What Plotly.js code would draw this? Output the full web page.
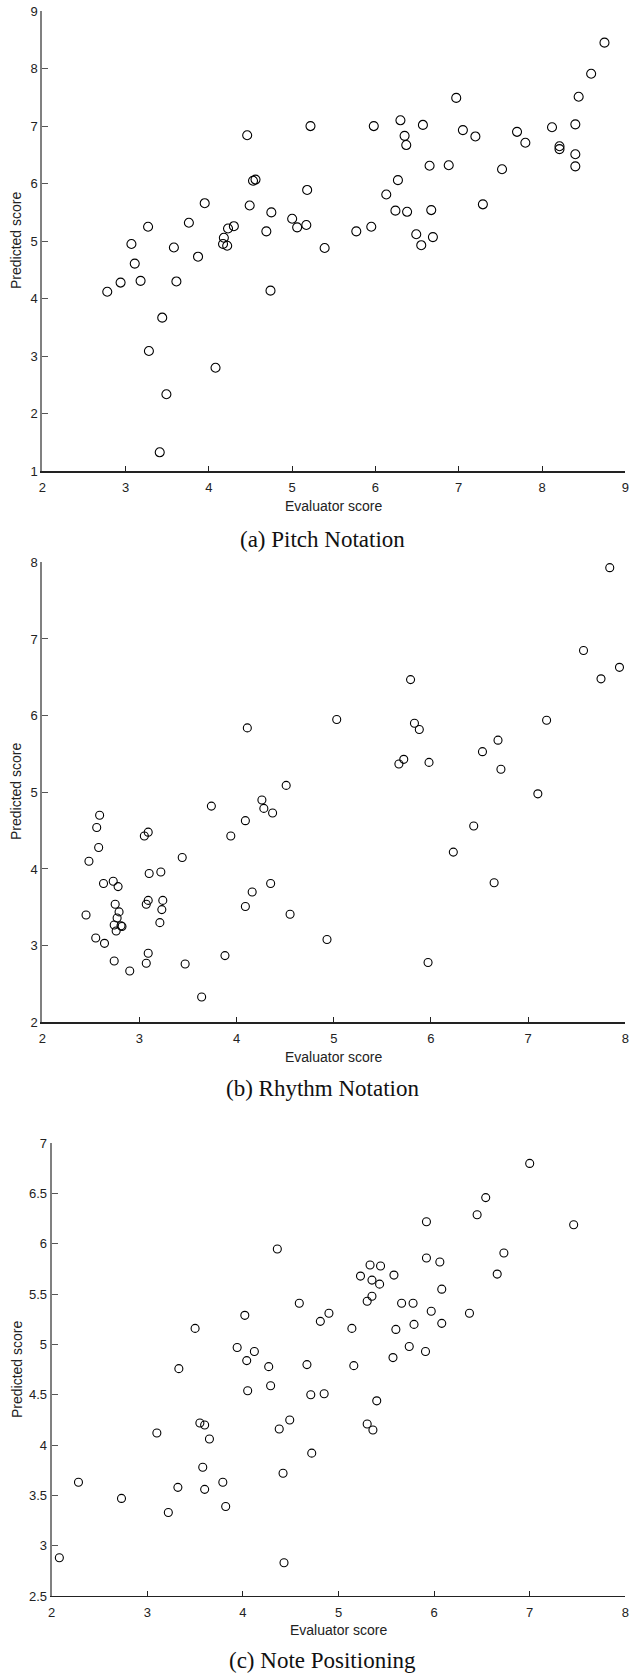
<!DOCTYPE html>
<html>
<head>
<meta charset="utf-8">
<script src="https://cdn.plot.ly/plotly-3.0.1.min.js"></script>
<style>html,body{margin:0;padding:0;background:#fff;}#chart{width:630px;height:1674px;}</style>
</head>
<body>
<div id="chart"></div>
<script>
// (a) Pitch Notation
const pitchEval = [3.07,3.27,3.58,3.76,3.87,3.95,4.18,4.17,4.22,4.23,4.30,4.46,4.53,4.56,4.49,4.75,4.69,5.00,5.06,5.17,5.18,5.22,
  3.11,2.78,2.94,3.18,3.61,3.44,3.28,4.08,3.49,3.41,4.74,
  5.98,6.30,6.35,6.37,6.57,6.97,7.05,7.20,7.70,7.80,8.12,8.21,8.21,8.40,8.40,8.40,8.44,8.59,8.75,6.65,6.88,7.52,6.27,6.13,6.24,6.38,6.67,7.29,5.95,5.77,6.49,6.69,6.55,5.39];
const pitchPred = [4.95,5.25,4.89,5.32,4.73,5.66,5.06,4.95,4.92,5.22,5.26,6.84,6.05,6.07,5.62,5.50,5.17,5.39,5.24,5.28,5.89,7.00,
  4.61,4.12,4.28,4.31,4.30,3.67,3.09,2.80,2.34,1.33,4.14,
  7.00,7.10,6.83,6.67,7.02,7.49,6.93,6.82,6.90,6.71,6.98,6.65,6.60,7.03,6.51,6.30,7.51,7.91,8.45,6.31,6.32,6.25,6.06,5.81,5.53,5.51,5.54,5.64,5.25,5.17,5.12,5.07,4.93,4.88];

// (b) Rhythm Notation
const rhythmEval = [4.11,4.51,3.74,4.26,4.28,4.37,4.09,3.94,2.59,2.56,3.09,3.05,
  2.58,2.48,3.44,2.63,2.73,2.78,3.10,3.22,2.75,2.79,2.45,2.77,2.74,2.81,2.82,2.76,2.55,2.64,3.09,3.07,3.24,3.23,3.21,2.74,2.90,3.09,3.07,3.47,3.64,3.88,4.09,4.16,4.35,4.55,
  7.84,7.57,7.94,7.75,5.79,5.03,7.19,5.83,5.88,6.69,6.53,5.72,5.67,5.98,6.72,7.10,6.44,
  6.23,6.65,4.93,5.97];
const rhythmPred = [5.84,5.09,4.82,4.90,4.79,4.73,4.63,4.43,4.70,4.54,4.48,4.43,
  4.28,4.10,4.15,3.81,3.84,3.77,3.94,3.96,3.54,3.44,3.40,3.36,3.27,3.26,3.25,3.19,3.10,3.03,3.59,3.54,3.59,3.47,3.30,2.80,2.67,2.90,2.77,2.76,2.33,2.87,3.51,3.70,3.81,3.41,
  7.93,6.85,6.63,6.48,6.47,5.95,5.94,5.90,5.82,5.68,5.53,5.43,5.37,5.39,5.30,4.98,4.56,
  4.22,3.82,3.08,2.78];

// (c) Note Positioning
const posEval = [4.36,4.59,4.02,3.50,3.94,4.12,4.04,4.27,4.67,3.33,4.29,4.05,4.71,4.81,
  3.55,3.60,3.10,3.65,4.38,4.49,4.72,4.42,3.58,2.28,2.73,3.32,3.60,3.79,3.82,3.22,2.08,4.43,
  4.85,5.40,5.30,5.36,
  7.00,6.54,6.45,5.92,7.46,6.73,5.92,6.06,6.66,5.33,5.44,5.23,5.35,5.43,5.58,6.08,5.35,5.30,5.66,5.78,5.97,6.37,4.90,5.14,5.60,5.79,6.08,5.74,5.91,5.57,5.16];
const posPred = [5.95,5.41,5.29,5.16,4.97,4.93,4.84,4.78,4.80,4.76,4.59,4.54,4.50,5.23,
  4.22,4.20,4.12,4.06,4.16,4.25,3.92,3.72,3.78,3.63,3.47,3.58,3.56,3.63,3.39,3.33,2.88,2.83,
  4.51,4.44,4.21,4.15,
  6.80,6.46,6.29,6.22,6.19,5.91,5.86,5.82,5.70,5.79,5.78,5.68,5.64,5.60,5.69,5.55,5.48,5.43,5.41,5.41,5.33,5.31,5.31,5.16,5.15,5.20,5.21,4.98,4.93,4.87,4.79];

const captions = ["(a) Pitch Notation", "(b) Rhythm Notation", "(c) Note Positioning"];
const xTitle = "Evaluator score";
const yTitle = "Predicted score";

const W = 630, H = 1674;
const px = v => v / W;
const py = v => 1 - v / H;

function mk(x, y, xa, ya, size) {
  return {
    x: x, y: y, xaxis: xa, yaxis: ya, type: 'scatter', mode: 'markers',
    marker: {symbol: 'circle-open', size: size, color: '#000', line: {width: 1.1, color: '#000'}},
    hoverinfo: 'x+y', showlegend: false
  };
}

const data = [
  mk(pitchEval, pitchPred, 'x', 'y', 9),
  mk(rhythmEval, rhythmPred, 'x2', 'y2', 8),
  mk(posEval, posPred, 'x3', 'y3', 8)
];

const tickFont = {family: 'Liberation Sans, Arial, sans-serif', size: 13, color: '#222'};
function xax(domain, range, anchor) {
  return {domain: domain, range: range, anchor: anchor, dtick: 1, tick0: 0,
    showgrid: false, zeroline: false, showline: true, linecolor: '#222', linewidth: 1.3,
    ticks: 'inside', ticklen: 5, tickwidth: 1, tickcolor: '#222', tickfont: tickFont,
    ticklabelstandoff: 4, fixedrange: true};
}
function yax(domain, range, anchor, dtick) {
  return {domain: domain, range: range, anchor: anchor, dtick: dtick, tick0: 0,
    showgrid: false, zeroline: false, showline: true, linecolor: '#808080', linewidth: 2,
    ticks: 'inside', ticklen: 6, tickwidth: 1, tickcolor: '#555', tickfont: tickFont, fixedrange: true};
}

const titleFont = {family: 'Liberation Sans, Arial, sans-serif', size: 14, color: '#222'};
const capFont = {family: 'Liberation Serif, Times New Roman, serif', size: 23, color: '#111'};

function ann(text, x, y, font, angle) {
  return {text: text, x: x, y: y, xref: 'paper', yref: 'paper', showarrow: false,
    xanchor: 'center', yanchor: 'middle', font: font, textangle: angle || 0};
}

const layout = {
  width: W, height: H,
  margin: {l: 0, r: 0, t: 0, b: 0},
  paper_bgcolor: '#fff', plot_bgcolor: '#fff',
  xaxis: xax([px(42.3), px(625.3)], [2, 9], 'y'),
  yaxis: yax([py(471.3), py(11)], [1, 9], 'x', 1),
  xaxis2: xax([px(42.3), px(625.3)], [2, 8], 'y2'),
  yaxis2: yax([py(1022.3), py(562.3)], [2, 8], 'x2', 1),
  xaxis3: xax([px(51.7), px(625.3)], [2, 8], 'y3'),
  yaxis3: yax([py(1596), py(1143.3)], [2.5, 7], 'x3', 0.5),
  annotations: [
    ann(xTitle, px(333.8), py(506), titleFont),
    ann(xTitle, px(333.8), py(1057), titleFont),
    ann(xTitle, px(338.5), py(1630), titleFont),
    ann(yTitle, px(16), py(241), titleFont, -90),
    ann(yTitle, px(16), py(792), titleFont, -90),
    ann(yTitle, px(17), py(1370), titleFont, -90),
    ann(captions[0], px(322), py(539), capFont),
    ann(captions[1], px(322), py(1088), capFont),
    ann(captions[2], px(322), py(1660), capFont)
  ]
};

Plotly.newPlot('chart', data, layout, {displayModeBar: false, staticPlot: true});
</script>
</body>
</html>
